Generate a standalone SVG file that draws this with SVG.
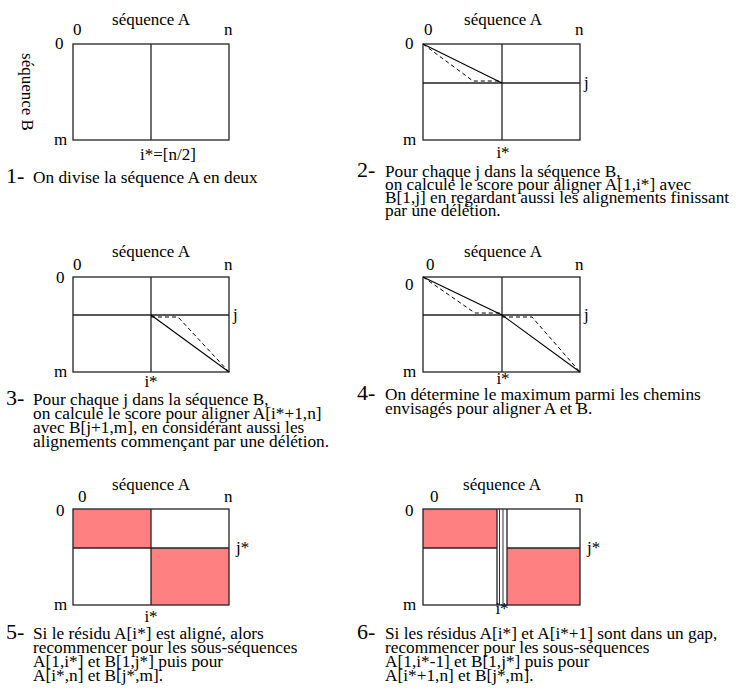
<svg xmlns="http://www.w3.org/2000/svg" width="736" height="693" viewBox="0 0 736 693" font-family="'Liberation Serif', 'Times New Roman', 'DejaVu Serif', serif">
<style>
text{font-family:'Liberation Serif','Times New Roman','DejaVu Serif',serif;fill:#000}
.lb{font-size:17px}
.cap{font-size:17.3px}
.num{font-size:22px}
.mid{text-anchor:middle}
.box{fill:none;stroke:#222;stroke-width:1.3}
.ln{fill:none;stroke:#222;stroke-width:1.3}
.thin{fill:none;stroke:#333;stroke-width:1}
.sol{fill:none;stroke:#000;stroke-width:1.1}
.dash{fill:none;stroke:#000;stroke-width:1;stroke-dasharray:4 3}
.red{fill:#ff8080}
</style>

<!-- Panel 1 -->
<g id="panel1">
<rect class="box" x="73" y="44" width="156" height="96"/>
<line class="ln" x1="151" y1="44" x2="151" y2="140"/>
<text class="lb mid" x="151" y="25">séquence A</text>
<text class="lb" x="73" y="35">0</text>
<text class="lb" x="224" y="35">n</text>
<text class="lb" x="55" y="49">0</text>
<text class="lb" x="54" y="145">m</text>
<text class="lb" x="140" y="160">i*=[n/2]</text>
<text class="lb mid" transform="translate(22,92) rotate(90)">séquence B</text>
<text class="num" x="6" y="183">1-</text>
<text class="cap" x="33" y="183">On divise la séquence A en deux</text>
</g>

<!-- Panel 2 -->
<g id="panel2">
<rect class="box" x="423" y="44" width="157" height="96"/>
<line class="ln" x1="502" y1="44" x2="502" y2="140"/>
<line class="ln" x1="423" y1="83" x2="580" y2="83"/>
<polyline class="sol" points="423,44 502,83"/>
<polyline class="dash" points="423,44 473,81 502,81"/>
<text class="lb mid" x="503" y="25">séquence A</text>
<text class="lb" x="424" y="35">0</text>
<text class="lb" x="575" y="35">n</text>
<text class="lb" x="405" y="49">0</text>
<text class="lb" x="584" y="88">j</text>
<text class="lb" x="403" y="145">m</text>
<text class="lb mid" x="503" y="158">i*</text>
<text class="num" x="357" y="177">2-</text>
<text class="cap" x="385" y="177">Pour chaque j dans la séquence B,</text>
<text class="cap" x="385" y="190">on calcule le score pour aligner A[1,i*] avec</text>
<text class="cap" x="385" y="203">B[1,j] en regardant aussi les alignements finissant</text>
<text class="cap" x="385" y="216">par une délétion.</text>
</g>

<!-- Panel 3 -->
<g id="panel3">
<rect class="box" x="73" y="277" width="156" height="95"/>
<line class="ln" x1="151" y1="277" x2="151" y2="372"/>
<line class="ln" x1="73" y1="315" x2="229" y2="315"/>
<polyline class="sol" points="151,315 229,372"/>
<polyline class="dash" points="151,317 178,317 229,372"/>
<text class="lb mid" x="151" y="257">séquence A</text>
<text class="lb" x="73" y="270">0</text>
<text class="lb" x="224" y="270">n</text>
<text class="lb" x="56" y="283">0</text>
<text class="lb" x="233" y="320">j</text>
<text class="lb" x="54" y="377">m</text>
<text class="lb mid" x="151" y="387">i*</text>
<text class="num" x="6" y="405">3-</text>
<text class="cap" x="33" y="405">Pour chaque j dans la séquence B,</text>
<text class="cap" x="33" y="419">on calcule le score pour aligner A[i*+1,n]</text>
<text class="cap" x="33" y="433">avec B[j+1,m], en considérant aussi les</text>
<text class="cap" x="33" y="447">alignements commençant par une délétion.</text>
</g>

<!-- Panel 4 -->
<g id="panel4">
<rect class="box" x="423" y="277" width="157" height="95"/>
<line class="ln" x1="502" y1="277" x2="502" y2="372"/>
<line class="ln" x1="423" y1="315" x2="580" y2="315"/>
<polyline class="sol" points="423,277 502,315 580,372"/>
<polyline class="dash" points="423,277 475,313 502,313"/>
<polyline class="dash" points="502,317 532,317 580,372"/>
<text class="lb mid" x="503" y="257">séquence A</text>
<text class="lb" x="426" y="270">0</text>
<text class="lb" x="575" y="270">n</text>
<text class="lb" x="405" y="290">0</text>
<text class="lb" x="584" y="320">j</text>
<text class="lb" x="403" y="377">m</text>
<text class="lb mid" x="503" y="384">i*</text>
<text class="num" x="357" y="400">4-</text>
<text class="cap" x="385" y="400">On détermine le maximum parmi les chemins</text>
<text class="cap" x="385" y="414">envisagés pour aligner A et B.</text>
</g>

<!-- Panel 5 -->
<g id="panel5">
<rect class="red" x="73" y="509" width="78" height="39"/>
<rect class="red" x="151" y="548" width="78" height="57"/>
<rect class="box" x="73" y="509" width="156" height="96"/>
<line class="ln" x1="151" y1="509" x2="151" y2="605"/>
<line class="ln" x1="73" y1="548" x2="229" y2="548"/>
<text class="lb mid" x="151" y="490">séquence A</text>
<text class="lb" x="78" y="502">0</text>
<text class="lb" x="224" y="502">n</text>
<text class="lb" x="56" y="516">0</text>
<text class="lb" x="236" y="553">j*</text>
<text class="lb" x="54" y="610">m</text>
<text class="lb mid" x="151" y="622">i*</text>
<text class="num" x="6" y="639">5-</text>
<text class="cap" x="33" y="639">Si le résidu A[i*] est aligné, alors</text>
<text class="cap" x="33" y="653">recommencer pour les sous-séquences</text>
<text class="cap" x="33" y="667">A[1,i*] et B[1,j*] puis pour</text>
<text class="cap" x="33" y="681">A[i*,n] et B[j*,m].</text>
</g>

<!-- Panel 6 -->
<g id="panel6">
<rect class="red" x="423" y="509" width="74" height="39"/>
<rect class="red" x="507" y="548" width="73" height="57"/>
<rect class="box" x="423" y="509" width="157" height="96"/>
<line class="ln" x1="497" y1="509" x2="497" y2="605"/>
<line class="thin" x1="499.5" y1="509" x2="499.5" y2="605"/>
<line class="thin" x1="503" y1="509" x2="503" y2="605"/>
<line class="ln" x1="507" y1="509" x2="507" y2="605"/>
<line class="ln" x1="423" y1="548" x2="497" y2="548"/>
<line class="ln" x1="507" y1="548" x2="580" y2="548"/>
<text class="lb mid" x="502" y="490">séquence A</text>
<text class="lb" x="430" y="502">0</text>
<text class="lb" x="575" y="502">n</text>
<text class="lb" x="405" y="516">0</text>
<text class="lb" x="587" y="553">j*</text>
<text class="lb" x="403" y="610">m</text>
<text class="lb mid" x="502" y="614">i*</text>
<text class="num" x="357" y="639">6-</text>
<text class="cap" x="385" y="639">Si les résidus A[i*] et A[i*+1] sont dans un gap,</text>
<text class="cap" x="385" y="653">recommencer pour les sous-séquences</text>
<text class="cap" x="385" y="667">A[1,i*-1] et B[1,j*] puis pour</text>
<text class="cap" x="385" y="681">A[i*+1,n] et B[j*,m].</text>
</g>
</svg>
